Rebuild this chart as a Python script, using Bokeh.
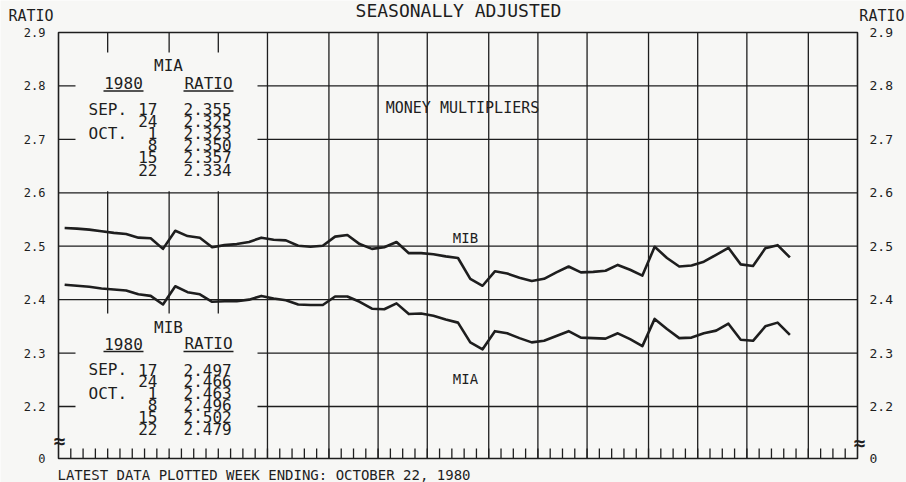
from bokeh.plotting import figure
from bokeh.models import Range1d, ColumnDataSource
from bokeh.core.properties import value
from bokeh.embed import file_html
from bokeh.resources import INLINE

# ---------------- data ----------------
week_index = list(range(60))  # weekly, Sep 5 1979 ... Oct 22 1980
mib = [2.534, 2.533, 2.531, 2.528, 2.525, 2.523, 2.516, 2.515, 2.495, 2.529,
       2.519, 2.516, 2.498, 2.502, 2.504, 2.508, 2.516, 2.512, 2.511, 2.501,
       2.499, 2.501, 2.518, 2.521, 2.504, 2.495, 2.498, 2.508, 2.487, 2.487,
       2.485, 2.481, 2.478, 2.439, 2.426, 2.453, 2.449, 2.441, 2.435, 2.439,
       2.451, 2.462, 2.451, 2.452, 2.454, 2.465, 2.456, 2.445, 2.499, 2.478,
       2.462, 2.464, 2.471, 2.484, 2.497, 2.466, 2.463, 2.496, 2.502, 2.479]
mia = [2.428, 2.426, 2.424, 2.421, 2.419, 2.417, 2.410, 2.407, 2.391, 2.425,
       2.414, 2.410, 2.396, 2.397, 2.397, 2.400, 2.407, 2.402, 2.399, 2.391,
       2.390, 2.390, 2.406, 2.406, 2.396, 2.383, 2.382, 2.393, 2.373, 2.374,
       2.370, 2.363, 2.357, 2.320, 2.307, 2.341, 2.337, 2.328, 2.320, 2.323,
       2.332, 2.341, 2.329, 2.328, 2.327, 2.337, 2.326, 2.313, 2.364, 2.345,
       2.328, 2.329, 2.337, 2.342, 2.355, 2.325, 2.323, 2.350, 2.357, 2.334]
weeks_per_month = [4, 5, 4, 4, 5, 4, 4, 5, 4, 4, 5, 4, 4, 5, 4]  # Sep 79 .. Nov 80
y_ticks = [2.2, 2.3, 2.4, 2.5, 2.6, 2.7, 2.8, 2.9]
grid_y = [2.2, 2.3, 2.4, 2.5, 2.6, 2.7, 2.8]
table_months = ["SEP.", "", "OCT.", "", "", ""]
table_days = ["17", "24", "1", "8", "15", "22"]
mia_table = ["2.355", "2.325", "2.323", "2.350", "2.357", "2.334"]
mib_table = ["2.497", "2.466", "2.463", "2.496", "2.502", "2.479"]

# ---------------- geometry (canvas pixels -> data) ----------------
W, H = 906, 482
n_weeks = sum(weeks_per_month)
PAGE_LEFT, PAGE_RIGHT, PAGE_TOP, PAGE_BASE = 58.0, 857.0, 32.0, 458.0
PX_WEEK = (PAGE_RIGHT - PAGE_LEFT) / n_weeks
PX_UNIT = 534.3
y_top = 2.9

def dx(page_x):
    return (page_x - PAGE_LEFT) / PX_WEEK

def dy(page_y):
    return y_top - (page_y - PAGE_TOP) / PX_UNIT

y_base = dy(PAGE_BASE)

BG = "#f7f7f5"
INK = "#1e1e1e"
FONT = "DejaVu Sans Mono"

p = figure(width=W, height=H,
           x_range=Range1d(dx(0), dx(W)), y_range=Range1d(dy(H), dy(0)),
           output_backend="svg", toolbar_location=None,
           x_axis_location=None, y_axis_location=None,
           min_border=0, background_fill_color=BG, border_fill_color=BG)
p.outline_line_color = None
p.xgrid.visible = False
p.ygrid.visible = False

# month boundaries
bounds = []
acc = 0
for w in weeks_per_month[:-1]:
    acc += w
    bounds.append(acc)

LW = 1.3
# horizontal grid
p.segment(x0=[0] * len(grid_y), x1=[n_weeks] * len(grid_y), y0=grid_y, y1=grid_y,
          line_color=INK, line_width=LW)
# vertical month grid
p.segment(x0=bounds, x1=bounds, y0=[y_base] * len(bounds), y1=[y_top] * len(bounds),
          line_color=INK, line_width=LW)

# blank areas behind the two tables
p.quad(left=[dx(75), dx(75)], right=[dx(257), dx(257)],
       top=[dy(52), dy(313)], bottom=[2.6 + 0.003, y_base + 0.003],
       fill_color=BG, line_color=None)

# weekly ticks along the bottom
wk = list(range(1, n_weeks))
tick_len = 10 / PX_UNIT
p.segment(x0=wk, x1=wk, y0=[y_base] * len(wk), y1=[y_base + tick_len] * len(wk),
          line_color=INK, line_width=LW)

# frame
p.quad(left=[0], right=[n_weeks], top=[y_top], bottom=[y_base],
       fill_color=None, line_color=INK, line_width=1.6)

# data lines
xs = [i + 0.5 for i in week_index]
src = ColumnDataSource(dict(x=xs, mib=mib, mia=mia))
p.line("x", "mib", source=src, line_width=2.6, color=INK, line_join="round")
p.line("x", "mia", source=src, line_width=2.6, color=INK, line_join="round")

def txt(xs, ys, texts, size, align="left", baseline="middle", style="normal"):
    p.text(x=xs, y=ys, text=texts, text_font=value(FONT), text_font_size=value(f"{size}px"),
           text_align=align, text_baseline=baseline, text_color=INK, text_font_style=style)

# axis tick labels (0 at the broken base)
tick_vals = [y_base] + y_ticks
tick_text = ["0"] + [f"{t:.1f}" for t in y_ticks]
txt([dx(45)] * len(tick_vals), tick_vals, tick_text, 12, "right")
txt([dx(869)] * len(tick_vals), tick_vals, tick_text, 13, "left")

# outside texts
txt([dx(458)], [dy(9.5)], ["SEASONALLY ADJUSTED"], 18, "center")
txt([dx(8)], [dy(15)], ["RATIO"], 15, "left")
txt([dx(904)], [dy(15)], ["RATIO"], 15, "right")
txt([dx(57)], [dy(474)], ["LATEST DATA PLOTTED WEEK ENDING: OCTOBER 22, 1980"], 14, "left")

# break marks
txt([dx(59), dx(859)], [dy(440), dy(442)], ["≈", "≈"], 20, "center", "middle", "bold")

# inner labels
txt([dx(462)], [dy(107)], ["MONEY MULTIPLIERS"], 15, "center")
txt([dx(465), dx(465)], [dy(237.5), dy(378)], ["MIB", "MIA"], 14, "center")

# tables
def table(title, ty, hy, uy, row0, step, values):
    txt([dx(168)], [dy(ty)], [title], 16, "center")
    txt([dx(123), dx(208)], [dy(hy), dy(hy)], ["1980", "RATIO"], 16, "center")
    p.segment(x0=[dx(103), dx(183)], x1=[dx(143), dx(233)], y0=[dy(uy)] * 2, y1=[dy(uy)] * 2,
              line_color=INK, line_width=LW)
    rows = [dy(row0 + step * k) for k in range(len(values))]
    mrows = [r for r, m in zip(rows, table_months) if m]
    mtxt = [m for m in table_months if m]
    txt([dx(88)] * len(mrows), mrows, mtxt, 16, "left")
    txt([dx(157)] * len(rows), rows, table_days, 16, "right")
    txt([dx(183)] * len(rows), rows, values, 16, "left")

table("MIA", 65, 82.5, 90.5, 108.5, 12.1, mia_table)
table("MIB", 327, 343, 351, 369, 11.8, mib_table)

open("out.html", "w").write(file_html(p, INLINE))
